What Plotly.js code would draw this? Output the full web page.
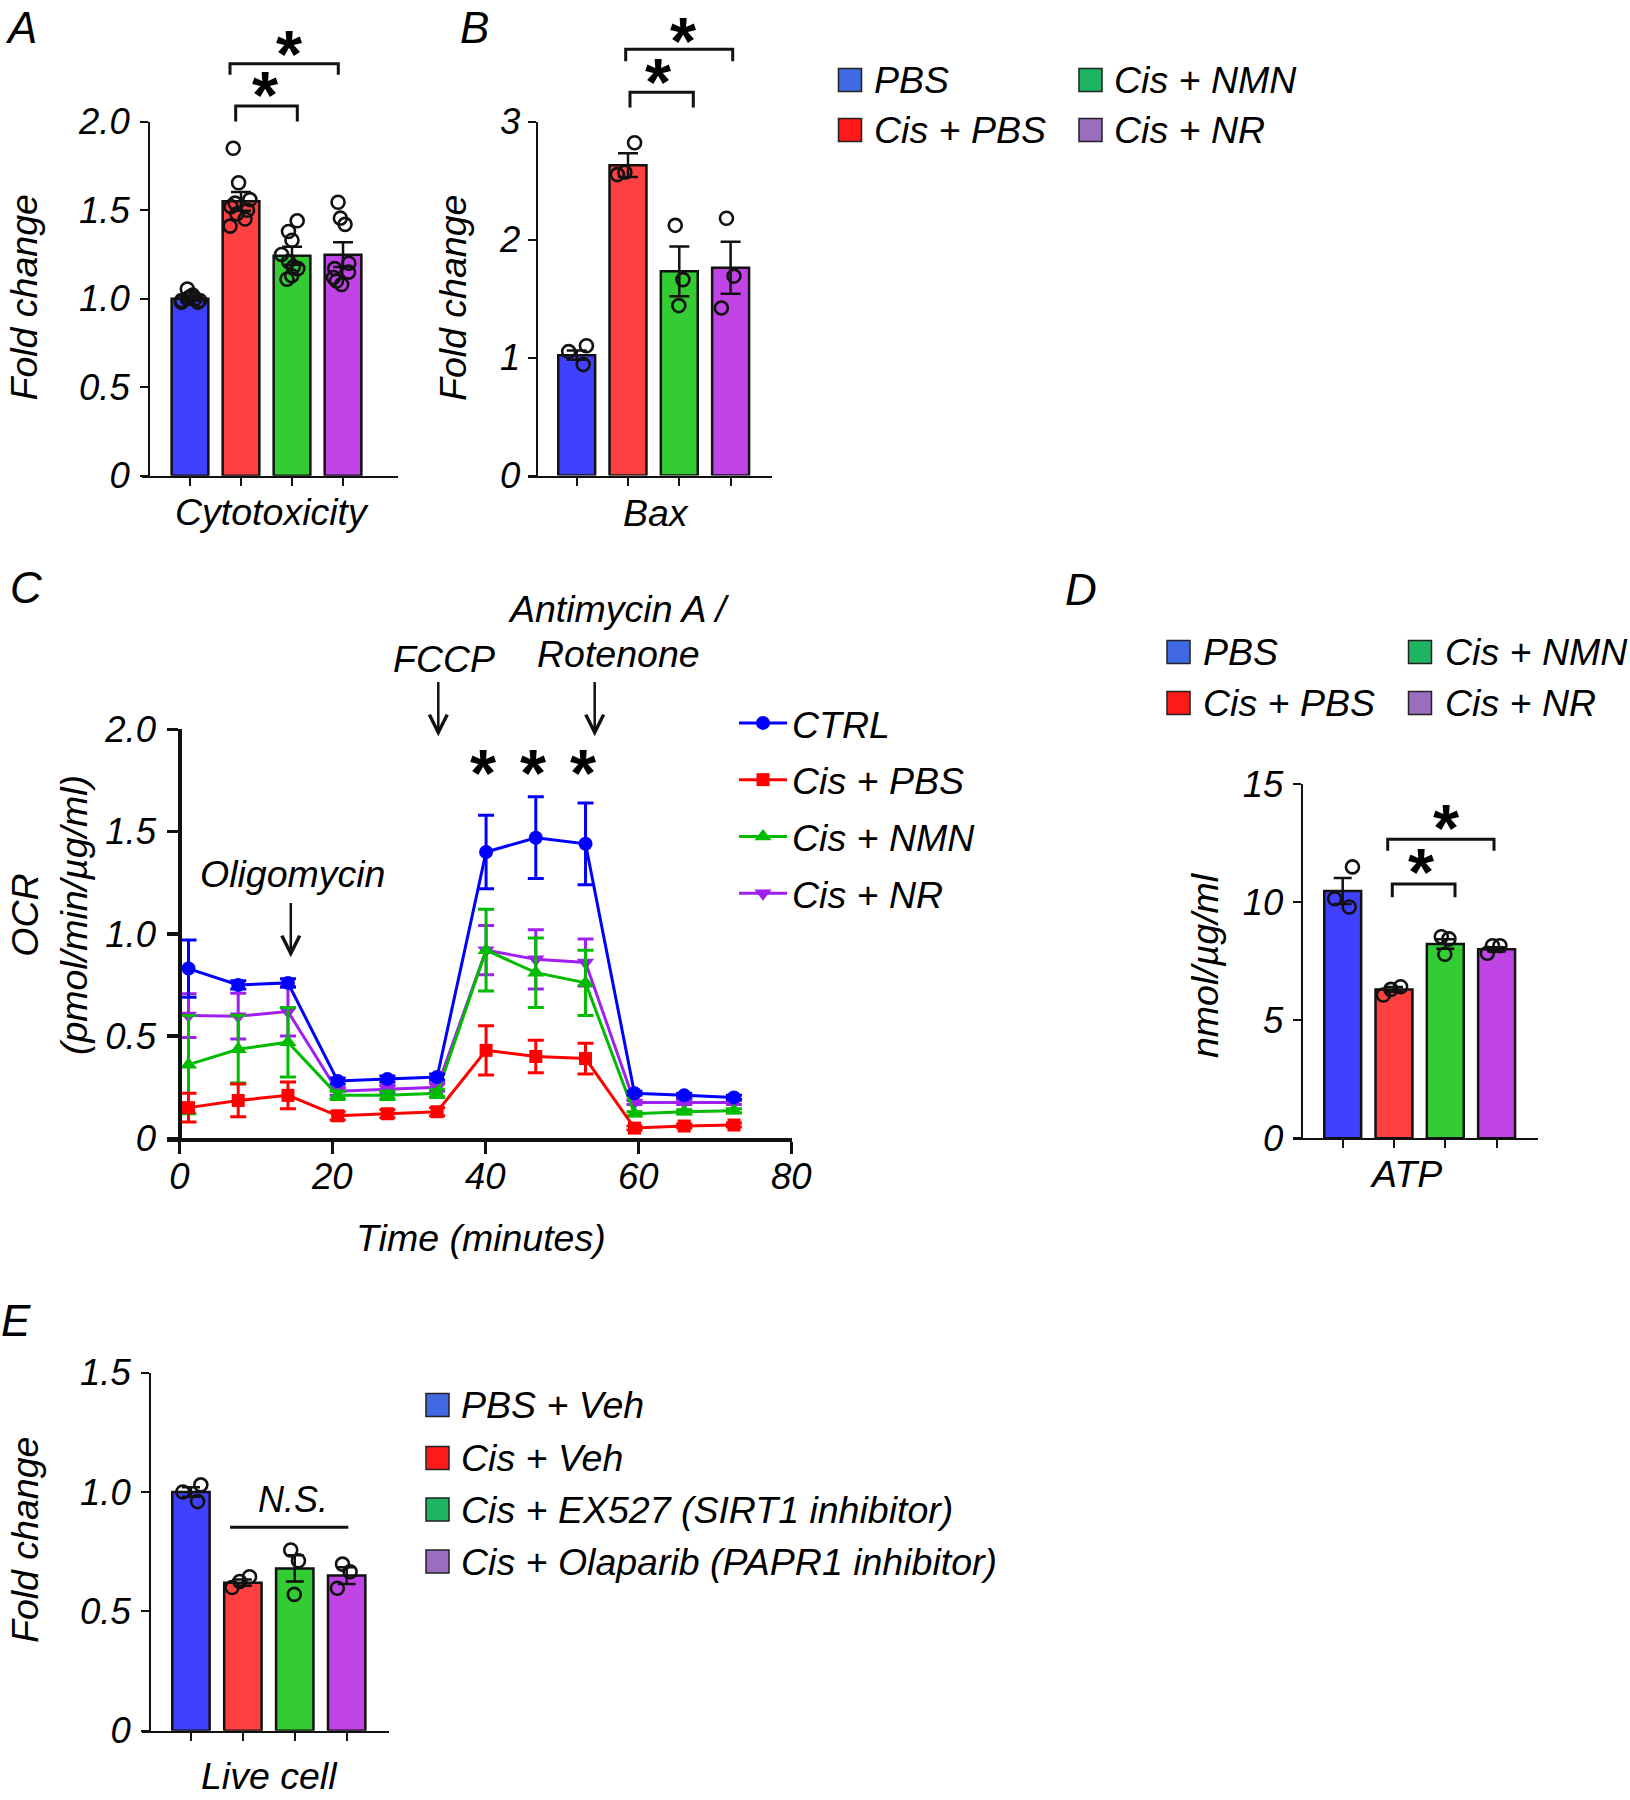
<!DOCTYPE html>
<html>
<head>
<meta charset="utf-8">
<script src="https://cdn.plot.ly/plotly-3.0.1.min.js"></script>
<style>html,body{margin:0;padding:0;background:#fff}#chart{width:1630px;height:1800px}</style>
</head>
<body>
<div id="chart"></div>
<script>
// ================= DATA =================
// Panels A, B, D groups
const groups = ['PBS', 'Cis + PBS', 'Cis + NMN', 'Cis + NR'];

// A: Cytotoxicity (fold change)
const cytoMean = [1.00, 1.55, 1.243, 1.249];
const cytoSem = [0.012, 0.053, 0.051, 0.070];
const cytoPBS = [1.055, 1.02, 1.01, 1.00, 1.00, 0.99, 0.99, 0.98, 0.98];
const cytoCisPBS = [1.85, 1.655, 1.56, 1.54, 1.52, 1.50, 1.48, 1.45, 1.41];
const cytoCisNMN = [1.44, 1.38, 1.33, 1.25, 1.21, 1.18, 1.17, 1.13, 1.11];
const cytoCisNR = [1.545, 1.455, 1.42, 1.20, 1.17, 1.15, 1.12, 1.10, 1.08];

// B: Bax (fold change)
const baxMean = [1.02, 2.63, 1.73, 1.76];
const baxSem = [0.04, 0.10, 0.21, 0.22];
const baxPBS = [1.10, 1.05, 0.94];
const baxCisPBS = [2.82, 2.55, 2.57];
const baxCisNMN = [2.12, 1.66, 1.44];
const baxCisNR = [2.18, 1.69, 1.42];

// C: OCR time course
const ocrLabels = ['CTRL', 'Cis + PBS', 'Cis + NMN', 'Cis + NR'];
const timeMin = [1.2, 7.7, 14.2, 20.7, 27.2, 33.7, 40.1, 46.6, 53.1, 59.5, 66.0, 72.5];
const ocrCTRL = [0.83, 0.75, 0.76, 0.28, 0.29, 0.30, 1.40, 1.47, 1.44, 0.22, 0.21, 0.20];
const ocrCTRLErr = [0.14, 0.02, 0.02, 0.015, 0.015, 0.015, 0.18, 0.20, 0.20, 0.01, 0.01, 0.01];
const ocrCisPBS = [0.15, 0.185, 0.21, 0.11, 0.12, 0.13, 0.43, 0.40, 0.39, 0.05, 0.06, 0.065];
const ocrCisPBSErr = [0.07, 0.08, 0.065, 0.02, 0.02, 0.02, 0.12, 0.08, 0.075, 0.01, 0.01, 0.01];
const ocrCisNMN = [0.36, 0.435, 0.47, 0.21, 0.21, 0.22, 0.92, 0.81, 0.76, 0.12, 0.13, 0.135];
const ocrCisNMNErr = [0.24, 0.165, 0.17, 0.02, 0.02, 0.02, 0.20, 0.17, 0.16, 0.01, 0.01, 0.01];
const ocrCisNR = [0.60, 0.597, 0.62, 0.23, 0.24, 0.25, 0.92, 0.875, 0.86, 0.175, 0.175, 0.175];
const ocrCisNRErr = [0.107, 0.112, 0.12, 0.02, 0.02, 0.02, 0.12, 0.145, 0.115, 0.01, 0.01, 0.01];

// D: ATP (nmol/µg/ml)
const atpMean = [10.48, 6.31, 8.23, 8.01];
const atpSem = [0.55, 0.10, 0.20, 0.09];
const atpPBS = [11.5, 9.8, 10.15];
const atpCisPBS = [6.42, 6.31, 6.07];
const atpCisNMN = [8.54, 8.45, 7.80];
const atpCisNR = [8.16, 8.16, 7.84];

// E: Live cell (fold change)
const liveGroups = ['PBS + Veh', 'Cis + Veh', 'Cis + EX527 (SIRT1 inhibitor)', 'Cis + Olaparib (PAPR1 inhibitor)'];
const liveMean = [1.00, 0.62, 0.68, 0.65];
const liveSem = [0.02, 0.013, 0.055, 0.035];
const livePBSVeh = [1.03, 1.00, 0.96];
const liveCisVeh = [0.645, 0.625, 0.60];
const liveCisEX527 = [0.757, 0.712, 0.571];
const liveCisOlaparib = [0.698, 0.666, 0.597];

// Tick labels
const foldTicks = [0, 0.5, 1, 1.5, 2];
const foldTickText = ['0', '0.5', '1.0', '1.5', '2.0'];
const baxTicks = [0, 1, 2, 3];
const baxTickText = ['0', '1', '2', '3'];
const timeTicks = [0, 20, 40, 60, 80];
const timeTickText = ['0', '20', '40', '60', '80'];
const atpTicks = [0, 5, 10, 15];
const atpTickText = ['0', '5', '10', '15'];
const liveTicks = [0, 0.5, 1, 1.5];
const liveTickText = ['0', '0.5', '1.0', '1.5'];

// ================= STYLE =================
const W = 1630, H = 1800;
const fx = p => p / W;
const fy = p => 1 - p / H;
const FONT = 'Liberation Sans, Arial, Helvetica, sans-serif';
const INK = '#111111';
const TXT = 37.5;
const STAR = 67;
const barColors = ['#4040FF', '#FF4040', '#33CC33', '#C044E6'];
const keyColors = ['#4169E1', '#FF1A1A', '#1DB462', '#9B6DBE'];
const ocrColors = ['#0000FF', '#FF0000', '#00BB00', '#A020F0'];
const ocrSymbols = ['circle', 'square', 'triangle-up', 'triangle-down'];
const ocrSizes = [14, 13, 15, 15];

// ================= TRACES =================
function barTrace(xa, ya, cats, mean, sem, capW) {
  return {
    type: 'bar', x: cats, y: mean, xaxis: xa, yaxis: ya, width: 0.72,
    marker: {color: barColors, line: {color: INK, width: 2.5}},
    error_y: {type: 'data', array: sem, visible: true, color: INK, thickness: 2.5, width: capW},
    showlegend: false, hoverinfo: 'skip'
  };
}
function pointsTrace(xa, ya, cats, lists, jitter) {
  const x = [], y = [];
  lists.forEach((arr, i) => arr.forEach(v => { x.push(cats[i]); y.push(v); }));
  return {
    type: 'box', x: x, y: y, xaxis: xa, yaxis: ya,
    boxpoints: 'all', jitter: jitter, pointpos: 0, width: 0.7,
    fillcolor: 'rgba(0,0,0,0)', line: {width: 0, color: 'rgba(0,0,0,0)'}, whiskerwidth: 0,
    marker: {symbol: 'circle-open', size: 13, color: INK, line: {width: 2.6, color: INK}},
    showlegend: false, hoverinfo: 'skip'
  };
}

const traces = [];
traces.push(barTrace('x', 'y', groups, cytoMean, cytoSem, 10));
traces.push(pointsTrace('x', 'y', groups, [cytoPBS, cytoCisPBS, cytoCisNMN, cytoCisNR], 0.85));
traces.push(barTrace('x2', 'y2', groups, baxMean, baxSem, 10));
traces.push(pointsTrace('x2', 'y2', groups, [baxPBS, baxCisPBS, baxCisNMN, baxCisNR], 0.7));
traces.push(barTrace('x4', 'y4', groups, atpMean, atpSem, 9));
traces.push(pointsTrace('x4', 'y4', groups, [atpPBS, atpCisPBS, atpCisNMN, atpCisNR], 0.7));
traces.push(barTrace('x5', 'y5', liveGroups, liveMean, liveSem, 9));
traces.push(pointsTrace('x5', 'y5', liveGroups, [livePBSVeh, liveCisVeh, liveCisEX527, liveCisOlaparib], 0.7));

const ocrY = [ocrCTRL, ocrCisPBS, ocrCisNMN, ocrCisNR];
const ocrE = [ocrCTRLErr, ocrCisPBSErr, ocrCisNMNErr, ocrCisNRErr];
[3, 2, 1, 0].forEach(i => {
  traces.push({
    type: 'scatter', mode: 'lines+markers', x: timeMin, y: ocrY[i],
    xaxis: 'x3', yaxis: 'y3', name: ocrLabels[i], legendgroup: 'g' + i, legendrank: i + 1,
    line: {color: ocrColors[i], width: 3},
    marker: {color: ocrColors[i], symbol: ocrSymbols[i], size: ocrSizes[i]},
    error_y: {type: 'data', array: ocrE[i], visible: true, color: ocrColors[i], thickness: 3, width: 8},
    cliponaxis: false, hoverinfo: 'skip'
  });
});

// ================= AXES =================
const tickFont = {family: FONT, size: 36.5, color: '#000', style: 'italic'};
function catX(x0, x1, range, anchor) {
  return {
    type: 'category', domain: [fx(x0), fx(x1)], range: range, anchor: anchor,
    showline: true, linecolor: INK, linewidth: 2, ticks: 'outside', ticklen: 8, tickwidth: 2, tickcolor: INK,
    showticklabels: false, showgrid: false, zeroline: false, fixedrange: true
  };
}
function valY(yBottom, yTop, range, pos, vals, text, standoff) {
  return {
    domain: [fy(yBottom), fy(yTop)], range: range, anchor: 'free', position: fx(pos),
    showline: true, linecolor: INK, linewidth: 2, ticks: 'outside', ticklen: 8, tickwidth: 2, tickcolor: INK,
    tickvals: vals, ticktext: text, tickfont: tickFont, ticklabelstandoff: standoff,
    showgrid: false, zeroline: false, fixedrange: true
  };
}

const layout = {
  width: W, height: H, autosize: false,
  margin: {l: 0, r: 0, t: 0, b: 0, pad: 0},
  paper_bgcolor: '#ffffff', plot_bgcolor: 'rgba(0,0,0,0)',
  showlegend: true, bargap: 0.2, boxmode: 'overlay',
  font: {family: FONT, color: '#000'},
  xaxis: catX(142, 398, [-0.941, 4.078], 'y'),
  yaxis: valY(475.7, 121.7, [0, 2], 149, foldTicks, foldTickText, 3),
  xaxis2: catX(528, 772, [-0.949, 3.807], 'y2'),
  yaxis2: valY(475.5, 121.5, [0, 3], 536.7, baxTicks, baxTickText, 0),
  xaxis3: {
    domain: [fx(167), fx(792)], range: [-1.61, 80.09], anchor: 'y3',
    showline: true, linecolor: INK, linewidth: 3.5, ticks: 'outside', ticklen: 12, tickwidth: 3.5, tickcolor: INK,
    tickvals: timeTicks, ticktext: timeTickText, tickfont: tickFont, ticklabelstandoff: -9,
    showgrid: false, zeroline: false, fixedrange: true
  },
  yaxis3: {
    domain: [fy(1138.3), fy(729.3)], range: [0, 2], anchor: 'free', position: fx(179.3),
    showline: true, linecolor: INK, linewidth: 3.5, ticks: 'outside', ticklen: 11, tickwidth: 3.5, tickcolor: INK,
    tickvals: foldTicks, ticktext: foldTickText, tickfont: tickFont, ticklabelstandoff: 4,
    showgrid: false, zeroline: false, fixedrange: true
  },
  xaxis4: catX(1293.3, 1538.3, [-0.963, 3.813], 'y4'),
  yaxis4: valY(1138.3, 784.3, [0, 15], 1301.7, atpTicks, atpTickText, 2),
  xaxis5: catX(141.7, 389.3, [-0.949, 3.821], 'y5'),
  yaxis5: valY(1730.7, 1372.7, [0, 1.5], 150, liveTicks, liveTickText, 3),
  legend: {
    x: fx(734), y: fy(692), xanchor: 'left', yanchor: 'top',
    font: {family: FONT, size: TXT, color: '#000', style: 'italic'},
    bgcolor: 'rgba(0,0,0,0)', borderwidth: 0, itemwidth: 48,
    traceorder: 'grouped', tracegroupgap: 5
  },
  annotations: [],
  shapes: []
};

// ================= ANNOTATIONS / SHAPES =================
const A = layout.annotations, S = layout.shapes;
function txt(text, x, y, size, extra) {
  A.push(Object.assign({
    text: text, xref: 'paper', yref: 'paper', x: fx(x), y: fy(y),
    xanchor: 'center', yanchor: 'middle', showarrow: false,
    font: {family: FONT, size: size, color: '#000', style: 'italic'}
  }, extra || {}));
}
function star(x, y) {
  A.push({text: '*', xref: 'paper', yref: 'paper', x: fx(x), y: fy(y + 7.5), xanchor: 'center', yanchor: 'middle',
    height: 54, valign: 'middle',
    showarrow: false, font: {family: FONT, size: STAR, color: '#000', weight: 'bold'}});
}
function bracket(x0, x1, yTop, yLeg) {
  S.push({type: 'path', xref: 'paper', yref: 'paper',
    path: 'M' + fx(x0) + ',' + fy(yLeg) + ' L' + fx(x0) + ',' + fy(yTop) + ' L' + fx(x1) + ',' + fy(yTop) + ' L' + fx(x1) + ',' + fy(yLeg),
    line: {color: INK, width: 3}});
}
function arrow(x, yTip, yTail) {
  A.push({text: '', xref: 'paper', yref: 'paper', x: fx(x), y: fy(yTip), ax: 0, ay: yTail - yTip,
    showarrow: true, arrowhead: 5, arrowsize: 1.4, arrowwidth: 2.5, arrowcolor: INK, standoff: 0});
}
function keyBox(x0, yc, color) {
  S.push({type: 'rect', xref: 'paper', yref: 'paper', x0: fx(x0), x1: fx(x0 + 23), y0: fy(yc - 11.5), y1: fy(yc + 11.5),
    fillcolor: color, line: {color: '#222', width: 1.5}});
}

// Panel letters
txt('A', 21, 1, 44, {yanchor: 'top'});
txt('B', 474, 1, 44, {yanchor: 'top'});
txt('C', 26, 587, 44); txt('D', 1081, 589, 44); txt('E', 16, 1320, 44);

// Axis titles
txt('Fold change', 23.5, 298, TXT, {textangle: -90});
txt('Cytotoxicity', 271.7, 512, TXT);
txt('Fold change', 453, 298, TXT, {textangle: -90});
txt('Bax', 655.8, 513, TXT);
txt('OCR<br>(pmol/min/µg/ml)', 49, 915, TXT, {textangle: -90});
txt('Time (minutes)', 481, 1238, TXT);
txt('nmol/µg/ml', 1205, 965, TXT, {textangle: -90});
txt('ATP', 1406, 1174, TXT);
txt('Fold change', 25, 1540, TXT, {textangle: -90});
txt('Live cell', 269, 1799, TXT, {yanchor: 'bottom'});

// Bar legends (top, D) : two columns
const keyTopCols = [838.5, 1079];
const keyTopRows = [80, 130];
const keyDCols = [1167, 1408.5];
const keyDRows = [652, 703];
groups.forEach((g, i) => {
  const c = Math.floor(i / 2), r = i % 2;
  keyBox(keyTopCols[c], keyTopRows[r], keyColors[i]);
  txt(g, keyTopCols[c] + 33, keyTopRows[r], TXT, {xanchor: 'left'});
  keyBox(keyDCols[c], keyDRows[r], keyColors[i]);
  txt(g, keyDCols[c] + 34, keyDRows[r], TXT, {xanchor: 'left'});
});
// E legend
const keyERows = [1405, 1458, 1509.5, 1561.5];
liveGroups.forEach((g, i) => {
  keyBox(426, keyERows[i], keyColors[i]);
  txt(g, 458.5, keyERows[i], TXT, {xanchor: 'left'});
});

// Significance brackets and stars
bracket(235.7, 297.3, 106, 121.5); star(265, 86);
bracket(230, 338.3, 63.7, 74.7); star(289.3, 45);
bracket(630, 693.3, 92.3, 107.4); star(658.3, 74);
bracket(625.7, 732.7, 49.2, 61.3); star(683.3, 33);
bracket(1392.3, 1455, 884, 897.3); star(1421.7, 863.3);
bracket(1387.7, 1494, 839.3, 850.7); star(1446.7, 820);
star(483.8, 764.5); star(533.5, 764.5); star(583.2, 764.5);

// N.S.
S.push({type: 'line', xref: 'paper', yref: 'paper', x0: fx(230), x1: fx(348.3), y0: fy(1527.3), y1: fy(1527.3), line: {color: INK, width: 3}});
txt('N.S.', 292.5, 1499, 36);

// Seahorse injections
txt('Oligomycin', 292.9, 874, TXT);
arrow(290.8, 957.3, 901.5);
txt('FCCP', 444.5, 659, TXT);
arrow(438.3, 736.3, 680.5);
txt('Antimycin A /', 618.5, 609, TXT);
txt('Rotenone', 618.5, 653.5, TXT);
arrow(594.7, 736.3, 680.5);

Plotly.newPlot('chart', traces, layout, {staticPlot: true, displayModeBar: false});
</script>
</body>
</html>
